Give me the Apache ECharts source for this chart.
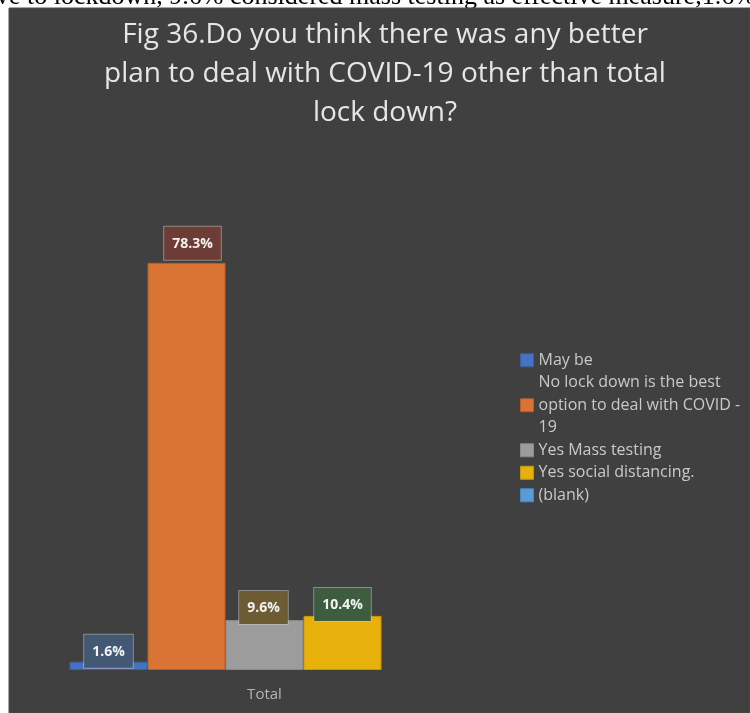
<!DOCTYPE html>
<html>
<head>
<meta charset="utf-8">
<script src="https://cdn.jsdelivr.net/npm/echarts@6/dist/echarts.min.js"></script>
<style>
html,body{margin:0;padding:0;background:#ffffff;}
#chart{width:750px;height:713px;}
</style>
</head>
<body>
<div id="chart"></div>
<script>
var categories = ['Total'];
var seriesNames = ['May be', 'No lock down is the best\noption to deal with COVID -\n19', 'Yes Mass testing', 'Yes social distancing.', '(blank)'];
var seriesValues = [1.6, 78.3, 9.6, 10.4, null];
var barColors = ['#4672C2', '#DA7435', '#9C9C9C', '#E8B00B', '#5B9BD5'];
var barBorders = ['#3a5fa6', '#b85d25', '#8a8a8a', '#c8960a', '#4a86bc'];
var labelFills = ['#435873', '#6e3c37', '#6d5b33', '#3e5c3f', '#435873'];
var labelDist = [-6, 3, -4, -5, 0];
var labelOffsetX = [0, 6, -1, 0, 0];
var titleText = 'Fig 36.Do you think there was any better\nplan to deal with COVID-19 other than total\nlock down?';
var pageText = 've to lockdown, 9.6% considered mass testing as effective measure,1.6%';

var chart = echarts.init(document.getElementById('chart'), null, {renderer: 'canvas'});

var series = seriesNames.map(function (name, i) {
  return {
    name: name,
    type: 'bar',
    barWidth: 78,
    barGap: '0%',
    z: 5,
    data: [seriesValues[i]],
    itemStyle: {color: barColors[i], borderColor: barBorders[i], borderWidth: 1},
    label: {
      show: seriesValues[i] != null,
      position: 'top',
      distance: labelDist[i],
      offset: [labelOffsetX[i], 0],
      formatter: function (p) { return p.value.toFixed(1) + '%'; },
      color: '#f2f2f2',
      fontSize: 14,
      fontWeight: 'bold',
      fontFamily: 'Open Sans',
      lineHeight: 14,
      backgroundColor: labelFills[i],
      borderColor: 'rgba(200,200,200,0.55)',
      borderWidth: 1,
      padding: [10, 8, 9, 8]
    },
    emphasis: {disabled: true}
  };
});

chart.setOption({
  animation: false,
  backgroundColor: '#ffffff',
  graphic: [
    {type: 'text', left: -4, top: -16, z: -2, zlevel: 0,
     style: {text: pageText, font: '26px "Liberation Serif"', fill: '#000000'}},
    {type: 'rect', shape: {x: 9, y: 8, width: 741, height: 705}, z: -1, zlevel: 0,
     style: {fill: '#404040', stroke: '#4c4c4c', lineWidth: 1}}
  ],
  title: {
    text: titleText,
    left: 380,
    top: 11,
    textAlign: 'center',
    z: 10,
    textStyle: {color: '#e6e6e6', fontSize: 28, fontWeight: 'normal', fontFamily: 'Open Sans', lineHeight: 39}
  },
  legend: {
    orient: 'vertical',
    left: 520,
    top: 349,
    padding: 0,
    itemWidth: 13,
    itemHeight: 13,
    itemGap: 0,
    itemTextGap: 5,
    icon: 'rect',
    selectedMode: false,
    z: 10,
    data: seriesNames.map(function (n, i) { return {name: n, itemStyle: {color: barColors[i], borderColor: barBorders[i], borderWidth: 1}}; }),
    textStyle: {color: '#c9c9c9', fontSize: 16, fontFamily: 'Open Sans', lineHeight: 22.5}
  },
  grid: {left: 11, right: 232, top: 202, bottom: 43, containLabel: false},
  xAxis: {
    type: 'category',
    data: categories,
    z: 10,
    axisLine: {show: false},
    axisTick: {show: false},
    axisLabel: {color: '#b4b4b4', fontSize: 15, fontFamily: 'Open Sans', margin: 17}
  },
  yAxis: {
    type: 'value',
    min: 0,
    max: 90,
    show: false,
    splitLine: {show: false}
  },
  series: series
});
</script>
</body>
</html>
